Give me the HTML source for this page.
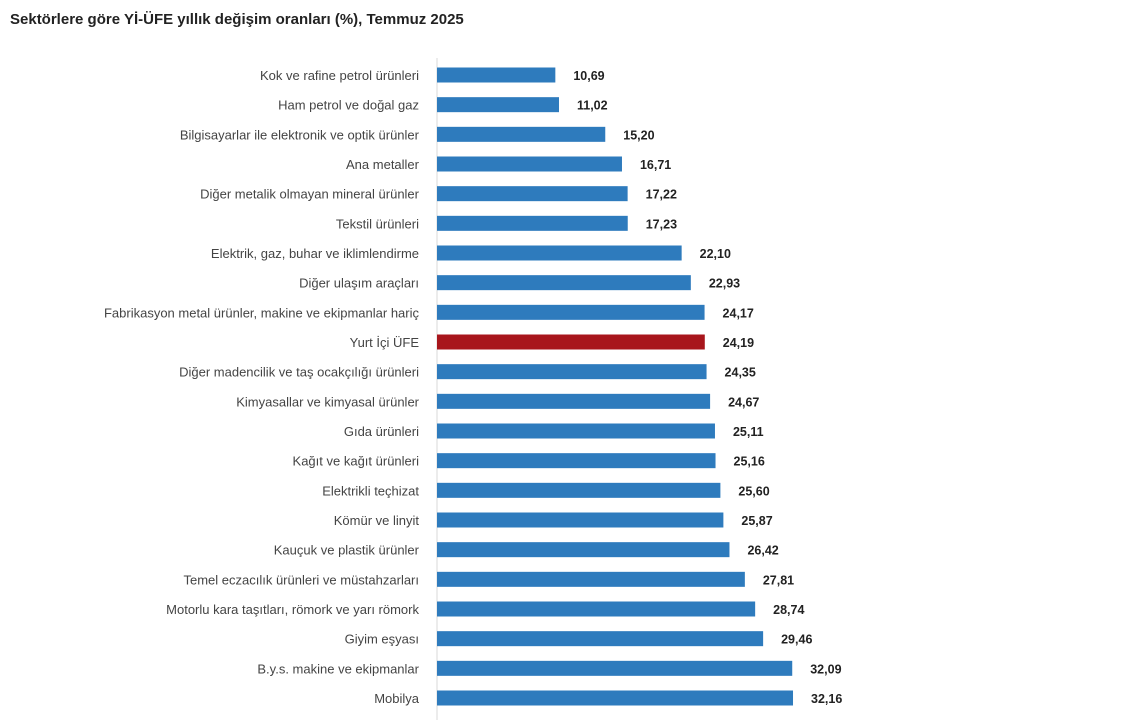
<!DOCTYPE html>
<html><head><meta charset="utf-8"><style>
body{margin:0;background:#fff;width:1132px;height:720px;overflow:hidden;font-family:"Liberation Sans",sans-serif}
#title{position:absolute;left:10px;top:11px;font-size:15px;font-weight:bold;color:#222}
</style></head><body>
<div id="title">Sektörlere göre Yİ-ÜFE yıllık değişim oranları (%), Temmuz 2025</div>
<svg id="chart" width="1132" height="720" style="position:absolute;left:0;top:0"></svg>
<script>
const categories=["Kok ve rafine petrol ürünleri","Ham petrol ve doğal gaz","Bilgisayarlar ile elektronik ve optik ürünler","Ana metaller","Diğer metalik olmayan mineral ürünler","Tekstil ürünleri","Elektrik, gaz, buhar ve iklimlendirme","Diğer ulaşım araçları","Fabrikasyon metal ürünler, makine ve ekipmanlar hariç","Yurt İçi ÜFE","Diğer madencilik ve taş ocakçılığı ürünleri","Kimyasallar ve kimyasal ürünler","Gıda ürünleri","Kağıt ve kağıt ürünleri","Elektrikli teçhizat","Kömür ve linyit","Kauçuk ve plastik ürünler","Temel eczacılık ürünleri ve müstahzarları","Motorlu kara taşıtları, römork ve yarı römork","Giyim eşyası","B.y.s. makine ve ekipmanlar","Mobilya"];
const values=[10.69,11.02,15.20,16.71,17.22,17.23,22.10,22.93,24.17,24.19,24.35,24.67,25.11,25.16,25.60,25.87,26.42,27.81,28.74,29.46,32.09,32.16];
const highlight="Yurt İçi ÜFE";
const NS="http://www.w3.org/2000/svg";
const svg=document.getElementById("chart");
const x0=437,scale=11.07,yFirst=75,step=(698-75)/21,barH=15;
const xs=v=>x0+v*scale;
const ys=i=>yFirst+i*step;
function mk(t,a){const e=document.createElementNS(NS,t);for(const k in a)e.setAttribute(k,a[k]);svg.appendChild(e);return e;}
const ax=mk("line",{x1:x0,x2:x0,y1:58,y2:720,stroke:"#d9d9d9","stroke-width":1});


categories.forEach((c,i)=>{
  const v=values[i],y=ys(i);
  const r=mk("rect",{x:x0,y:y-barH/2,width:xs(v)-x0,height:barH,fill:c===highlight?"#a8161c":"#2e7bbd"});
  
  
  const l=mk("text",{x:419,y:y+5,"text-anchor":"end","font-size":"13",fill:"#444"});
  l.textContent=c;
  
  
  const t=mk("text",{x:xs(v)+18,y:y+5,"font-size":"12.5","font-weight":"bold",fill:"#222"});
  t.textContent=v.toFixed(2).replace(".",",");
  
  
});
</script>
</body></html>
